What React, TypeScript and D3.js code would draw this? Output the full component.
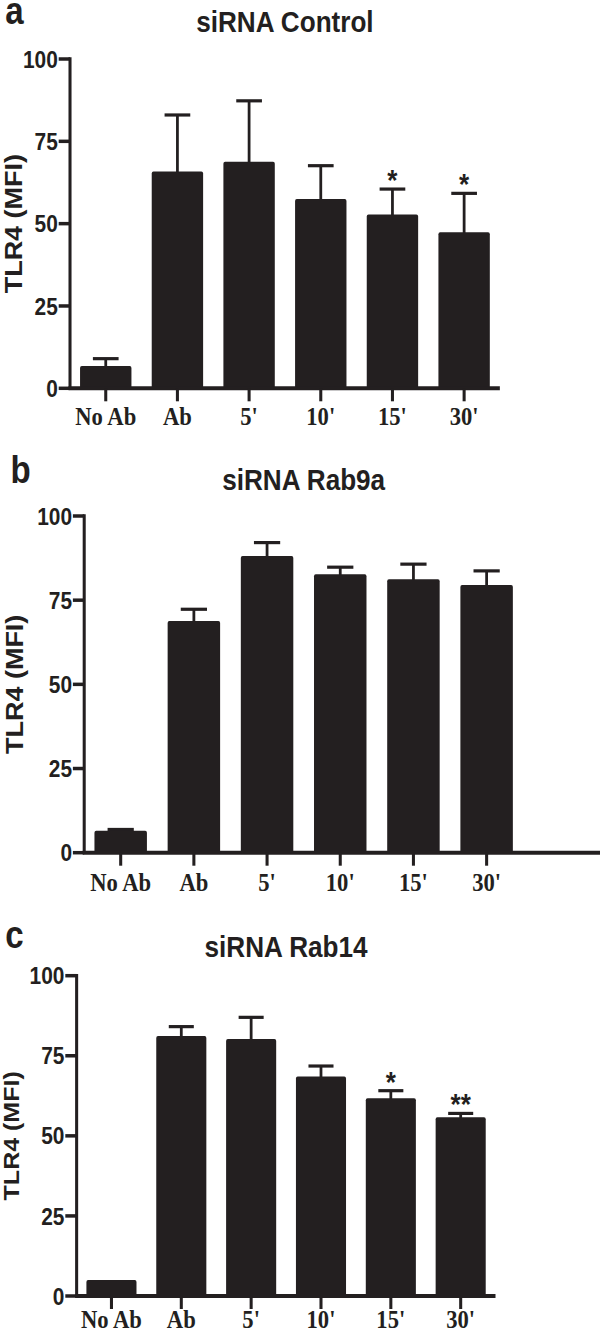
import React from "react";
import * as d3 from "d3";

const categories = ["No Ab", "Ab", "5'", "10'", "15'", "30'"];
const yTicks = [0, 25, 50, 75, 100];

const controlMeans = [6.8, 65.8, 68.8, 57.5, 52.8, 47.4];
const controlErr = [2.2, 17.2, 18.5, 10.1, 7.7, 11.8];
const controlSig = ["", "", "", "", "*", "*"];

const rab9aMeans = [6.5, 68.8, 88.1, 82.7, 81.2, 79.5];
const rab9aErr = [0.4, 3.5, 4.0, 2.1, 4.5, 4.2];
const rab9aSig = ["", "", "", "", "", ""];

const rab14Means = [5.0, 81.2, 80.2, 68.5, 61.7, 55.8];
const rab14Err = [0, 2.9, 6.8, 3.3, 2.4, 1.2];
const rab14Sig = ["", "", "", "", "*", "**"];

const INK = "#231f20";
const SANS = "'Liberation Sans', Arial, Helvetica, sans-serif";
const SERIF = "'Liberation Serif', 'Times New Roman', serif";

// internal drawing width; the figure is squeezed horizontally into 600px
const VW = 689;

type PanelProps = {
  letter: string;
  title: string;
  means: number[];
  errs: number[];
  sig: string[];
  x0: number;
  x1: number;
  axisEnd: number;
  yBottom: number;
  yTop: number;
  titleY: number;
  letterX: number;
  letterY: number;
  yTitleX: number;
  yTitleSize: number;
  labelDy: number;
};

function Panel(p: PanelProps) {
  const x = d3
    .scaleBand<string>()
    .domain(categories)
    .range([p.x0, p.x1])
    .paddingInner(0.283)
    .paddingOuter(0.14);
  const y = d3.scaleLinear().domain([0, 100]).range([p.yBottom, p.yTop]);
  const bw = x.bandwidth();
  const cx = (c: string) => (x(c) as number) + bw / 2;
  const capW = bw / 2;
  const sw = 3.5;

  return (
    <g>
      <text
        x={p.letterX}
        y={p.letterY}
        fontFamily={SANS}
        fontWeight="bold"
        fontSize={38}
        fill={INK}
      >
        {p.letter}
      </text>
      <text
        x={(p.x0 + p.x1) / 2}
        y={p.titleY}
        textAnchor="middle"
        fontFamily={SANS}
        fontWeight="bold"
        fontSize={30}
        fill={INK}
      >
        {p.title}
      </text>
      {categories.map((c, i) => {
        const top = y(p.means[i]);
        const capY = y(p.means[i] + p.errs[i]);
        return (
          <g key={c}>
            {p.errs[i] > 0 && (
              <g stroke={INK} strokeWidth={3.2}>
                <line x1={cx(c)} x2={cx(c)} y1={top + 2} y2={capY} />
                <line x1={cx(c) - capW / 2} x2={cx(c) + capW / 2} y1={capY} y2={capY} />
              </g>
            )}
            <rect
              x={x(c)}
              y={top}
              width={bw}
              height={p.yBottom - top}
              rx={2}
              fill={INK}
            />
            {p.sig[i] && (
              <text
                x={cx(c)}
                y={capY + 1}
                textAnchor="middle"
                fontFamily={SANS}
                fontWeight="bold"
                fontSize={30}
                fill={INK}
              >
                {p.sig[i]}
              </text>
            )}
          </g>
        );
      })}
      <line
        x1={p.x0}
        x2={p.x0}
        y1={p.yBottom}
        y2={y(100) - sw / 2}
        stroke={INK}
        strokeWidth={sw}
      />
      {yTicks.map((t) => (
        <g key={t}>
          <line
            x1={p.x0 - 13}
            x2={p.x0}
            y1={y(t)}
            y2={y(t)}
            stroke={INK}
            strokeWidth={sw}
          />
          <text
            x={p.x0 - 14}
            y={y(t)}
            dy="0.36em"
            textAnchor="end"
            fontFamily={SANS}
            fontWeight="bold"
            fontSize={24}
            fill={INK}
          >
            {t}
          </text>
        </g>
      ))}
      <line
        x1={p.x0 - sw / 2}
        x2={p.axisEnd}
        y1={p.yBottom}
        y2={p.yBottom}
        stroke={INK}
        strokeWidth={sw + 0.5}
      />
      {categories.map((c) => (
        <g key={c}>
          <line
            x1={cx(c)}
            x2={cx(c)}
            y1={p.yBottom}
            y2={p.yBottom + 13}
            stroke={INK}
            strokeWidth={sw}
          />
          <text
            x={cx(c)}
            y={p.yBottom + p.labelDy}
            textAnchor="middle"
            fontFamily={SERIF}
            fontWeight="bold"
            fontSize={26}
            fill={INK}
          >
            {c}
          </text>
        </g>
      ))}
      <text
        transform={`translate(${p.yTitleX},${(p.yBottom + p.yTop) / 2}) rotate(-90)`}
        textAnchor="middle"
        fontFamily={SANS}
        fontWeight="bold"
        fontSize={p.yTitleSize}
        fill={INK}
      >
        TLR4 (MFI)
      </text>
    </g>
  );
}

export default function App() {
  return (
    <svg
      width={600}
      height={1332}
      viewBox={`0 0 ${VW} 1332`}
      preserveAspectRatio="none"
      style={{ position: "absolute", left: 0, top: 0, background: "#fff" }}
    >
      <rect x={0} y={0} width={VW} height={1332} fill="#fff" />
      <Panel
        letter="a"
        title="siRNA Control"
        means={controlMeans}
        errs={controlErr}
        sig={controlSig}
        x0={80.4}
        x1={574}
        axisEnd={574}
        yBottom={388.3}
        yTop={59}
        titleY={32}
        letterX={6}
        letterY={24}
        yTitleX={25}
        yTitleSize={27}
        labelDy={37}
      />
      <Panel
        letter="b"
        title="siRNA Rab9a"
        means={rab9aMeans}
        errs={rab9aErr}
        sig={rab9aSig}
        x0={96.7}
        x1={600.7}
        axisEnd={689}
        yBottom={852.7}
        yTop={516}
        titleY={490}
        letterX={12}
        letterY={483}
        yTitleX={26}
        yTitleSize={27}
        labelDy={38}
      />
      <Panel
        letter="c"
        title="siRNA Rab14"
        means={rab14Means}
        errs={rab14Err}
        sig={rab14Sig}
        x0={88}
        x1={569}
        axisEnd={569}
        yBottom={1296}
        yTop={975.7}
        titleY={957}
        letterX={6}
        letterY={948}
        yTitleX={22}
        yTitleSize={25}
        labelDy={32}
      />
    </svg>
  );
}
